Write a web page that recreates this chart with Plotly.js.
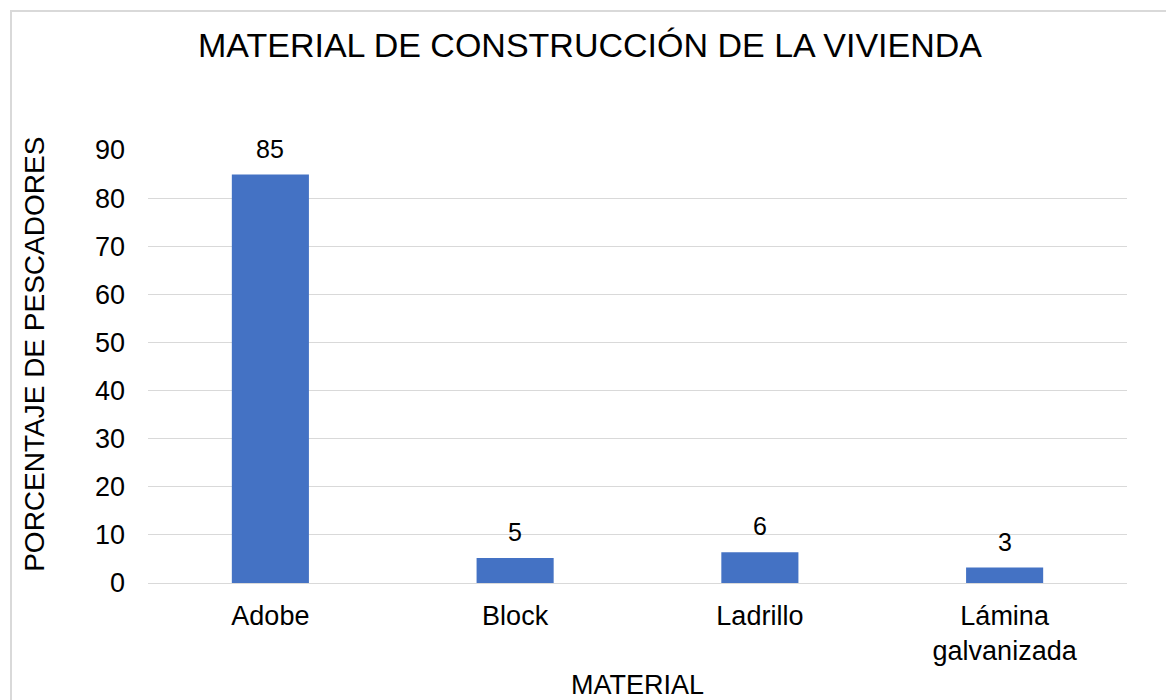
<!DOCTYPE html>
<html lang="es">
<head>
    <meta charset="UTF-8">
    <title>Material de construcción de la vivienda</title>
    <script src="https://cdn.plot.ly/plotly-3.0.1.min.js"></script>
    <style>
        body {
            margin: 0;
            padding: 0;
            background: #ffffff;
            overflow: hidden;
        }
        .frame {
            position: absolute;
            left: 10px;
            top: 10px;
            width: 1170px;
            height: 700px;
            border: 2px solid #d9d9d9;
        }
        #chart {
            position: absolute;
            left: 0;
            top: 0;
            width: 1166px;
            height: 700px;
        }
    </style>
</head>
<body>
    <div class="frame"></div>
    <div id="chart"></div>

    <script>
        // Datos
        const materiales = ['Adobe', 'Block', 'Ladrillo', 'Lámina<br>galvanizada'];
        const porcentajes = [84.9, 5.2, 6.4, 3.2];
        const etiquetas = ['85', '5', '6', '3'];
        const yTicks = [0, 10, 20, 30, 40, 50, 60, 70, 80, 90];

        const fontFamily = 'Liberation Sans, Arial, sans-serif';

        const trace = {
            x: materiales,
            y: porcentajes,
            type: 'bar',
            marker: { color: '#4472C4' },
            hoverinfo: 'x+y'
        };

        // Etiquetas de datos sobre cada barra
        const labels = materiales.map((m, i) => ({
            x: m,
            y: porcentajes[i],
            text: etiquetas[i],
            showarrow: false,
            yanchor: 'bottom',
            yshift: 10,
            font: { family: fontFamily, size: 25, color: '#000000' }
        }));

        // Título del eje Y como anotación (un poco por encima del centro)
        labels.push({
            text: 'PORCENTAJE DE PESCADORES',
            textangle: -90,
            xref: 'paper',
            yref: 'paper',
            x: 0,
            xshift: -113,
            y: 0.527,
            xanchor: 'center',
            yanchor: 'middle',
            showarrow: false,
            font: { family: fontFamily, size: 28, color: '#000000' }
        });

        const layout = {
            width: 1166,
            height: 700,
            paper_bgcolor: 'rgba(0,0,0,0)',
            plot_bgcolor: '#ffffff',
            margin: { l: 148, r: 39, t: 150, b: 117 },
            showlegend: false,
            bargap: 0.685,
            font: { family: fontFamily, color: '#000000' },
            title: {
                text: 'MATERIAL DE CONSTRUCCIÓN DE LA VIVIENDA',
                font: { family: fontFamily, size: 34, color: '#000000' },
                xref: 'container',
                x: 0.506,
                xanchor: 'center',
                yref: 'container',
                y: 0.935,
                yanchor: 'middle'
            },
            xaxis: {
                automargin: false,
                showline: false,
                ticks: '',
                ticklabelstandoff: 14,
                tickfont: { family: fontFamily, size: 27, color: '#000000' },
                title: {
                    text: 'MATERIAL',
                    standoff: 20,
                    font: { family: fontFamily, size: 27, color: '#000000' }
                }
            },
            yaxis: {
                automargin: false,
                range: [0, 90],
                tickvals: yTicks,
                showgrid: true,
                gridcolor: '#d9d9d9',
                gridwidth: 1,
                zeroline: true,
                zerolinecolor: '#d9d9d9',
                zerolinewidth: 1,
                showline: false,
                ticks: '',
                ticklabelstandoff: 22,
                tickfont: { family: fontFamily, size: 27, color: '#000000' }
            },
            annotations: labels
        };

        Plotly.newPlot('chart', [trace], layout, { displayModeBar: false, staticPlot: true });
    </script>
</body>
</html>
